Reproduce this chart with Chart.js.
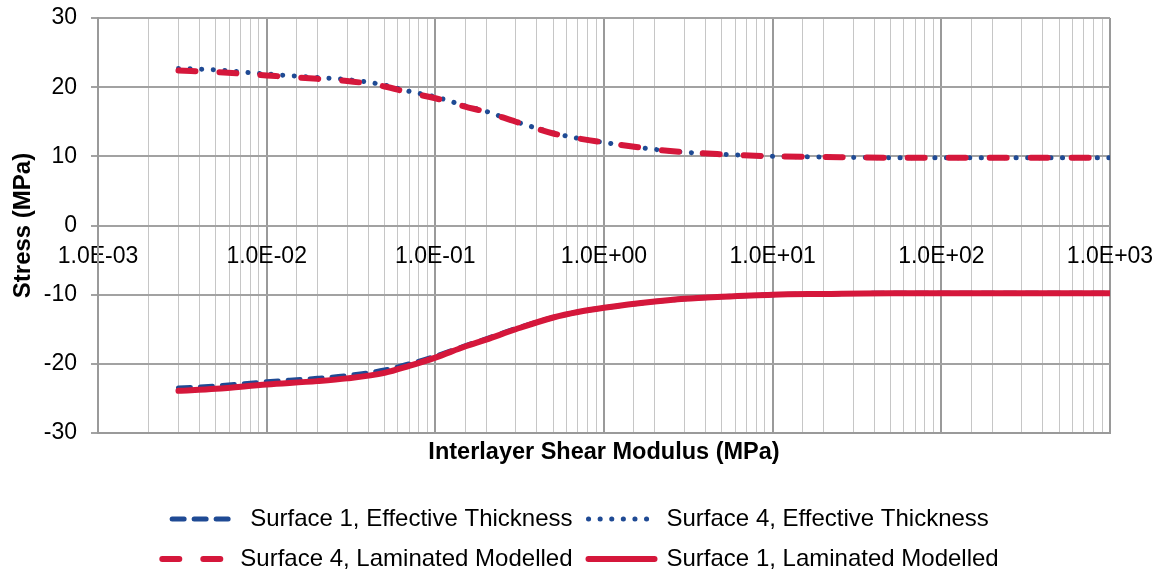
<!DOCTYPE html>
<html lang="en">
<head>
  <meta charset="UTF-8" />
  <title>Stress vs Interlayer Shear Modulus</title>
  <script src="https://cdn.jsdelivr.net/npm/chart.js"></script>
  <style>
    html, body { margin: 0; padding: 0; background: #fff; }
    #wrap { width: 1161px; height: 577px; position: relative; }
  </style>
</head>
<body>
  <div id="wrap"><canvas id="stressChart"></canvas></div>

  <script>
    // shear modulus (MPa)
    const shearModulus = [0.003, 0.005, 0.01, 0.02, 0.03, 0.05, 0.07, 0.1, 0.15, 0.2, 0.3, 0.5, 0.7, 1, 2, 3, 5, 10, 20, 50, 100, 200, 500, 1000];

    const surf1Effective = [-23.5, -23.2, -22.6, -22.1, -21.7, -20.9, -20.0, -18.9, -17.4, -16.4, -14.9, -13.3, -12.5, -11.9, -11.0, -10.6, -10.3, -10.0, -9.9, -9.8, -9.8, -9.8, -9.8, -9.8];
    const surf4Effective = [22.7, 22.5, 21.9, 21.4, 21.1, 20.3, 19.4, 18.6, 17.3, 16.5, 15.0, 13.4, 12.6, 12.0, 11.0, 10.6, 10.3, 10.0, 9.9, 9.8, 9.8, 9.8, 9.8, 9.8];
    const surf4Laminated = [22.4, 22.2, 21.7, 21.2, 20.9, 20.1, 19.2, 18.4, 17.2, 16.4, 15.0, 13.3, 12.6, 12.0, 11.0, 10.6, 10.3, 10.0, 9.9, 9.8, 9.8, 9.8, 9.8, 9.8];
    const surf1Laminated = [-23.9, -23.6, -23.0, -22.5, -22.1, -21.3, -20.3, -19.1, -17.5, -16.5, -15.0, -13.3, -12.5, -11.9, -11.0, -10.6, -10.3, -10.0, -9.9, -9.8, -9.8, -9.8, -9.8, -9.8];

    const seriesNames = [
      'Surface 1, Effective Thickness',
      'Surface 4, Effective Thickness',
      'Surface 4, Laminated Modelled',
      'Surface 1, Laminated Modelled'
    ];

    const xMin = 0.001, xMax = 1000;
    const yMin = -30, yMax = 30, yStep = 10;

    const FONT = 'Arial, "Liberation Sans", Helvetica, sans-serif';
    const BLUE = '#1F4A94';
    const RED = '#D5173B';

    function isDecade(v) {
      const l = Math.log10(v);
      return Math.abs(l - Math.round(l)) < 1e-9;
    }
    function sciLabel(v) {
      const e = Math.round(Math.log10(v));
      return '1.0E' + (e < 0 ? '-' : '+') + String(Math.abs(e)).padStart(2, '0');
    }

    Chart.defaults.font.family = FONT;
    Chart.defaults.color = '#000';

    const ctx = document.getElementById('stressChart');
    new Chart(ctx, {
      type: 'line',
      data: {
        labels: shearModulus,
        datasets: [
          { label: seriesNames[0], data: surf1Effective, borderColor: BLUE, borderWidth: 5, borderDash: [12, 10], order: 3 },
          { label: seriesNames[1], data: surf4Effective, borderColor: BLUE, borderWidth: 5, borderDash: [0.1, 11.5], order: 2 },
          { label: seriesNames[2], data: surf4Laminated, borderColor: RED, borderWidth: 6, borderDash: [17, 24], order: 1 },
          { label: seriesNames[3], data: surf1Laminated, borderColor: RED, borderWidth: 6, order: 0 }
        ]
      },
      options: {
        responsive: true,
        maintainAspectRatio: false,
        animation: false,
        layout: { padding: { top: 18, right: 0, bottom: -4, left: 0 } },
        elements: {
          point: { radius: 0, hoverRadius: 0 },
          line: { fill: false, cubicInterpolationMode: 'monotone', borderCapStyle: 'round', borderJoinStyle: 'round' }
        },
        scales: {
          x: {
            type: 'logarithmic',
            position: 'bottom',
            min: xMin,
            max: xMax,
            ticks: { display: false, autoSkip: false },
            grid: {
              drawTicks: false,
              color: c => (c.tick && isDecade(c.tick.value)) ? '#9a9a9a' : '#c6c6c6',
              lineWidth: c => (c.tick && isDecade(c.tick.value)) ? 2 : 1
            },
            border: { display: true, color: '#9a9a9a', width: 2 },
            title: {
              display: true,
              text: 'Interlayer Shear Modulus (MPa)',
              font: { size: 23.5, weight: 'bold' },
              padding: { top: 0, bottom: 24 }
            },
            afterFit: s => { s.height = 58; }
          },
          xZero: {
            type: 'logarithmic',
            position: { y: 0 },
            axis: 'x',
            min: xMin,
            max: xMax,
            grid: { display: false, drawTicks: false },
            border: { display: false },
            ticks: {
              autoSkip: false,
              maxRotation: 0,
              padding: 17,
              font: { size: 23 },
              callback: v => isDecade(v) ? sciLabel(v) : ''
            },
            afterFit: s => { s.paddingLeft = 0; s.paddingRight = 0; }
          },
          y: {
            min: yMin,
            max: yMax,
            ticks: { stepSize: yStep, padding: 14, font: { size: 23 } },
            grid: { color: '#a2a2a2', lineWidth: 2, tickLength: 7 },
            border: { color: '#9a9a9a', width: 2 },
            title: {
              display: true,
              text: 'Stress (MPa)',
              font: { size: 24, weight: 'bold' },
              padding: { top: 9, bottom: 0 }
            },
            afterFit: s => { s.width = 98; s.paddingTop = 0; s.paddingBottom = 0; }
          },
          // empty right-hand spacer so the plot ends where the original does
          ySpacer: {
            position: 'right',
            axis: 'y',
            min: yMin,
            max: yMax,
            grid: { drawOnChartArea: false, drawTicks: false },
            border: { display: false },
            ticks: { display: false },
            afterFit: s => { s.width = 51; }
          }
        },
        plugins: {
          tooltip: { enabled: false },
          legend: {
            position: 'bottom',
            labels: {
              usePointStyle: true,
              pointStyle: 'line',
              pointStyleWidth: 66,
              padding: 16,
              font: { size: 24 },
              color: '#000',
              generateLabels: chart => chart.data.datasets.map((ds, i) => ({
                text: ds.label,
                strokeStyle: ds.borderColor,
                fillStyle: ds.borderColor,
                lineWidth: ds.borderWidth,
                lineDash: ds.borderDash || [],
                lineCap: 'round',
                pointStyle: 'line',
                hidden: false,
                datasetIndex: i
              }))
            }
          }
        }
      }
    });
  </script>
</body>
</html>
